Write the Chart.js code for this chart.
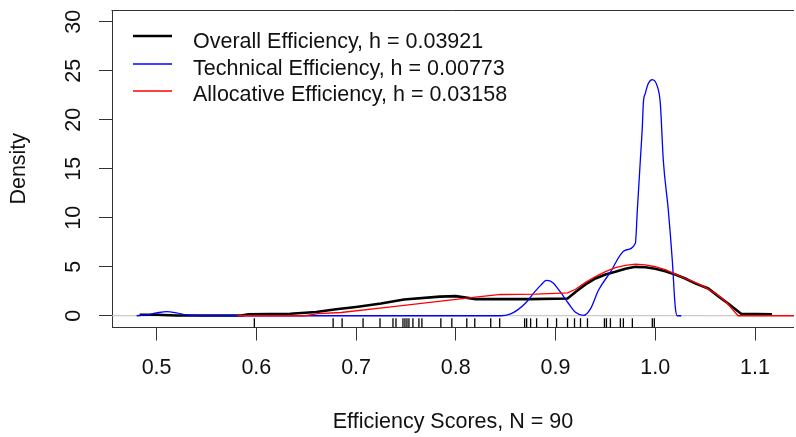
<!DOCTYPE html>
<html>
<head>
<meta charset="utf-8">
<script src="https://cdn.jsdelivr.net/npm/chart.js@4"></script>
<style>
  html, body { margin: 0; padding: 0; background: #fff; overflow: hidden; }
  #wrap { width: 796px; height: 437px; overflow: hidden; }
</style>
</head>
<body>
<div id="wrap"><canvas id="densChart" width="800" height="437"></canvas></div>
<script>
// kernel density estimates of the efficiency scores
const seriesLabels = [
  "Overall Efficiency, h = 0.03921",
  "Technical Efficiency, h = 0.00773",
  "Allocative Efficiency, h = 0.03158",
];

const overallX = [0.483, 0.500, 0.520, 0.585, 0.592, 0.634, 0.660, 0.680, 0.700, 0.725, 0.748, 0.784, 0.800, 0.810, 0.820, 0.874, 0.912, 0.920, 0.930, 0.940, 0.950, 0.960, 0.970, 0.980, 0.990, 1.000, 1.010, 1.020, 1.030, 1.040, 1.053, 1.063, 1.073, 1.086, 1.117];
const overallY = [0.10, 0.10, 0.02, 0.02, 0.15, 0.20, 0.38, 0.66, 0.90, 1.25, 1.66, 1.95, 2.00, 1.85, 1.70, 1.70, 1.76, 2.43, 3.20, 3.80, 4.20, 4.48, 4.80, 4.99, 4.95, 4.80, 4.55, 4.20, 3.80, 3.30, 2.78, 2.00, 1.25, 0.20, 0.15];

const technicalX = [0.480, 0.490, 0.500, 0.510, 0.520, 0.530, 0.545, 0.845, 0.855, 0.862, 0.870, 0.878, 0.885, 0.891, 0.897, 0.905, 0.913, 0.920, 0.928, 0.935, 0.943, 0.954, 0.970, 0.980, 0.982, 0.985, 0.987, 0.988, 0.990, 0.993, 0.997, 1.002, 1.005, 1.008, 1.013, 1.017, 1.020, 1.022, 1.026];
const technicalY = [0.00, 0.08, 0.28, 0.43, 0.30, 0.08, 0.00, 0.00, 0.20, 0.60, 1.30, 2.30, 3.10, 3.60, 3.40, 2.40, 1.25, 0.35, 0.03, 0.70, 2.60, 4.30, 6.70, 7.40, 10.80, 15.90, 19.30, 21.70, 22.70, 23.70, 24.10, 23.40, 21.70, 15.90, 10.80, 5.70, 0.90, 0.00, 0.00];

const allocativeX = [0.581, 0.649, 0.662, 0.685, 0.735, 0.785, 0.822, 0.845, 0.880, 0.912, 0.920, 0.930, 0.940, 0.950, 0.960, 0.970, 0.980, 0.990, 1.000, 1.010, 1.020, 1.030, 1.040, 1.050, 1.060, 1.070, 1.083, 1.139];
const allocativeY = [0.00, 0.00, 0.22, 0.33, 0.90, 1.50, 1.92, 2.17, 2.20, 2.33, 2.70, 3.40, 4.00, 4.50, 4.90, 5.15, 5.27, 5.20, 5.00, 4.70, 4.25, 3.80, 3.40, 2.90, 2.30, 1.50, 0.00, 0.00];

// observed scores (rug)
const rugX = [0.598, 0.677, 0.686, 0.707, 0.724, 0.737, 0.740, 0.747, 0.749, 0.751, 0.753, 0.757, 0.763, 0.766, 0.785, 0.796, 0.811, 0.819, 0.835, 0.844, 0.869, 0.871, 0.875, 0.881, 0.892, 0.901, 0.912, 0.919, 0.925, 0.932, 0.949, 0.951, 0.955, 0.965, 0.968, 0.977, 0.997, 0.999];

const xTicks = [0.5, 0.6, 0.7, 0.8, 0.9, 1.0, 1.1];
const yTicks = [0, 5, 10, 15, 20, 25, 30];

const X_MIN = 0.4553, X_MAX = 1.139;
const Y_MIN = -1.2, Y_MAX = 31.2;
const RUG_Y = -0.74;

const FONT = "'Liberation Sans', Arial, sans-serif";
const AXIS_COLOR = "#333";
const TEXT_COLOR = "#111";

const toPoints = (xs, ys) => xs.map((x, i) => ({ x: x, y: ys[i] }));

// box top edge (left and bottom come from the axis borders)
const boxTop = {
  id: "boxTop",
  afterDraw(chart) {
    const { ctx, chartArea } = chart;
    ctx.save();
    ctx.strokeStyle = AXIS_COLOR;
    ctx.lineWidth = 1;
    ctx.beginPath();
    ctx.moveTo(chartArea.left - 0.5, chartArea.top + 0.5);
    ctx.lineTo(chartArea.right, chartArea.top + 0.5);
    ctx.stroke();
    ctx.restore();
  },
};

// y tick labels, rotated like base R axis labels
const yLabels = {
  id: "yLabels",
  afterDraw(chart) {
    const { ctx } = chart;
    const y = chart.scales.y;
    ctx.save();
    ctx.fillStyle = TEXT_COLOR;
    ctx.font = "21.5px " + FONT;
    ctx.textAlign = "center";
    ctx.textBaseline = "alphabetic";
    y.ticks.forEach((t) => {
      ctx.save();
      ctx.translate(80, y.getPixelForValue(t.value));
      ctx.rotate(-Math.PI / 2);
      ctx.fillText(String(t.value), 0, 0);
      ctx.restore();
    });
    ctx.restore();
  },
};

// legend in the top left corner of the plot
const lineLegend = {
  id: "lineLegend",
  afterDraw(chart) {
    const { ctx } = chart;
    const rows = [
      { line: 36, text: 47.5 },
      { line: 64, text: 75 },
      { line: 91, text: 100.5 },
    ];
    ctx.save();
    ctx.font = "21.5px " + FONT;
    ctx.textAlign = "left";
    ctx.textBaseline = "alphabetic";
    seriesLabels.forEach((label, i) => {
      const ds = chart.data.datasets[i];
      ctx.strokeStyle = ds.borderColor;
      ctx.lineWidth = ds.borderWidth;
      ctx.beginPath();
      ctx.moveTo(133, rows[i].line);
      ctx.lineTo(172, rows[i].line);
      ctx.stroke();
      ctx.fillStyle = TEXT_COLOR;
      ctx.fillText(label, 193, rows[i].text);
    });
    ctx.restore();
  },
};

const densData = {
  datasets: [
    {
      label: seriesLabels[0],
      data: toPoints(overallX, overallY),
      borderColor: "#000000",
      borderWidth: 2.6,
      pointRadius: 0,
      tension: 0,
      order: 3,
    },
    {
      label: seriesLabels[1],
      data: toPoints(technicalX, technicalY),
      borderColor: "#0000ff",
      borderWidth: 1.3,
      pointRadius: 0,
      cubicInterpolationMode: "monotone",
      order: 2,
    },
    {
      label: seriesLabels[2],
      data: toPoints(allocativeX, allocativeY),
      borderColor: "#ff0000",
      borderWidth: 1.3,
      pointRadius: 0,
      tension: 0,
      order: 1,
    },
    {
      label: "zero",
      data: [{ x: X_MIN, y: 0 }, { x: X_MAX, y: 0 }],
      borderColor: "#bebebe",
      borderWidth: 1,
      pointRadius: 0,
      order: 4,
    },
    {
      type: "scatter",
      label: "rug",
      data: rugX.map((x) => ({ x: x, y: RUG_Y })),
      showLine: false,
      pointStyle: "line",
      rotation: 90,
      radius: 4.75,
      borderColor: "#000000",
      borderWidth: 1.3,
      order: 0,
    },
  ],
};

const densConfig = {
  type: "line",
  data: densData,
  options: {
    responsive: false,
    animation: false,
    devicePixelRatio: 1,
    layout: { padding: { top: 10, left: 0, right: 0, bottom: 0 } },
    scales: {
      x: {
        type: "linear",
        position: "bottom",
        min: X_MIN,
        max: X_MAX,
        afterBuildTicks: (scale) => { scale.ticks = xTicks.map((v) => ({ value: v })); },
        afterFit: (scale) => { scale.height = 109.5; },
        grid: { drawOnChartArea: false, drawTicks: true, tickLength: 13, color: AXIS_COLOR },
        border: { display: true, color: AXIS_COLOR, width: 1 },
        ticks: {
          padding: 14.5,
          maxRotation: 0,
          color: TEXT_COLOR,
          font: { family: FONT, size: 21.5 },
          callback: (v) => Number(v).toFixed(1),
        },
        title: {
          display: true,
          text: "Efficiency Scores, N = 90",
          color: TEXT_COLOR,
          font: { family: FONT, size: 21.5 },
          padding: { top: 0, bottom: 1.6 },
        },
      },
      y: {
        type: "linear",
        min: Y_MIN,
        max: Y_MAX,
        afterBuildTicks: (scale) => { scale.ticks = yTicks.map((v) => ({ value: v })); },
        afterFit: (scale) => { scale.width = 112; },
        grid: { drawOnChartArea: false, drawTicks: true, tickLength: 13, color: AXIS_COLOR },
        border: { display: true, color: AXIS_COLOR, width: 1 },
        ticks: { display: false },
        title: {
          display: true,
          text: "Density",
          color: TEXT_COLOR,
          font: { family: FONT, size: 21.5 },
          padding: { top: 6.6, bottom: 0 },
        },
      },
    },
    plugins: {
      legend: { display: false },
      tooltip: { enabled: false },
    },
  },
  plugins: [boxTop, yLabels, lineLegend],
};

const densCtx = document.getElementById("densChart").getContext("2d");
const densChart = new Chart(densCtx, densConfig);
</script>
</body>
</html>
